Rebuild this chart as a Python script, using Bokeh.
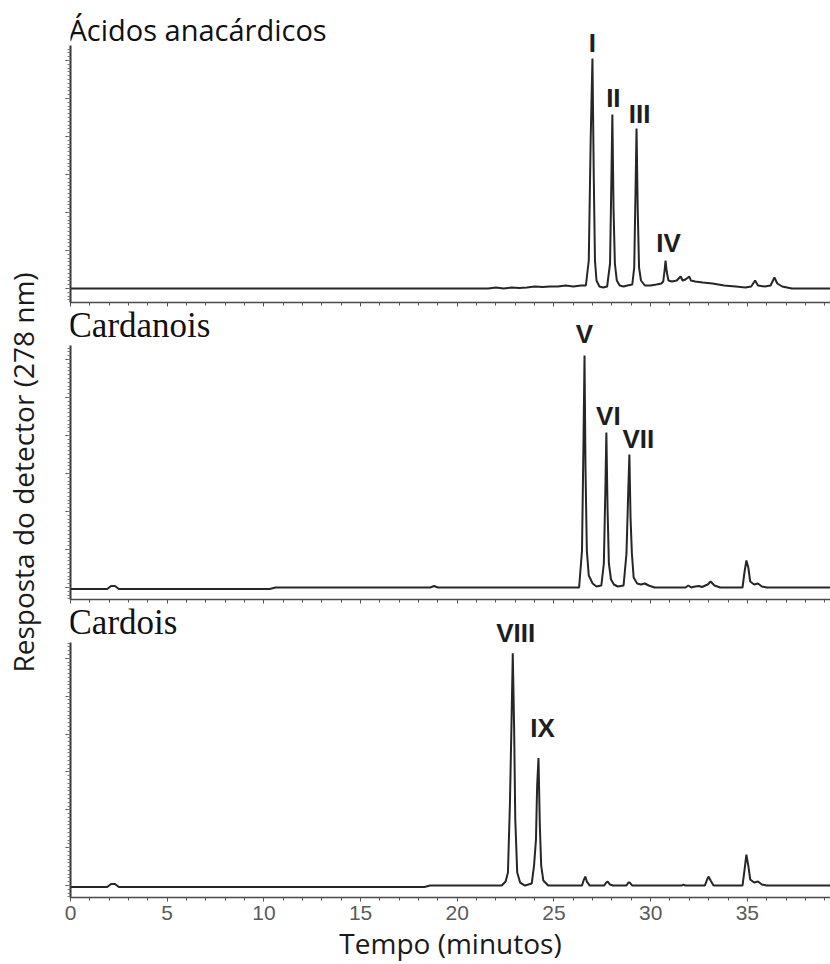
from math import pi
from bokeh.plotting import figure
from bokeh.models import Label, SingleIntervalTicker, Range1d, CustomJSTickFormatter
from bokeh.layouts import row, column
from bokeh.embed import file_html
from bokeh.resources import INLINE

# ---------------- data (retention time in minutes, relative detector response) -------------
x_end = 39.3

acidos_t = [0, 21.6, 22.0, 22.4, 22.8, 23.2, 23.6, 24.0, 24.4, 24.8, 25.2, 25.6, 26.0, 26.4,
            26.65, 26.8, 26.9, 26.99, 27.06, 27.12, 27.2, 27.35, 27.55,
            27.75, 27.9, 27.97, 28.02, 28.08, 28.15, 28.25, 28.4, 28.6, 28.8,
            29.05, 29.15, 29.22, 29.27, 29.33, 29.4, 29.5, 29.7, 30.0, 30.3, 30.55,
            30.65, 30.72, 30.77, 30.83, 30.92, 31.1, 31.35, 31.55, 31.65, 31.8, 32.0, 32.08,
            32.3, 32.7, 33.2, 33.8, 34.4, 34.9, 35.2, 35.4, 35.55, 35.9, 36.2, 36.4, 36.55,
            36.8, 37.3, 39.3]
acidos_r = [0, 0, 1, 0, 1, 0.5, 1, 2, 1.5, 2, 2, 3, 2, 3,
            3, 28, 150, 230, 110, 28, 8, 2, 1,
            2, 25, 110, 174, 80, 25, 8, 3, 2, 3,
            4, 21, 100, 160, 80, 21, 8, 3, 3, 4, 5,
            7, 18, 28, 17, 8, 7, 8, 12, 8, 9, 12, 8,
            7, 6, 5, 3, 2, 1, 2, 8, 3, 2, 3, 11, 5,
            2, 0, 0]

cardanois_t = [0, 1.9, 2.1, 2.3, 2.5, 10.3, 10.6, 18.6, 18.8, 19.0, 26.3,
               26.45, 26.53, 26.58, 26.63, 26.7, 26.8, 27.0, 27.2,
               27.45, 27.58, 27.66, 27.71, 27.77, 27.84, 27.95, 28.1, 28.3,
               28.6, 28.75, 28.84, 28.9, 28.96, 29.03, 29.12, 29.3, 29.5, 29.7, 29.9, 30.2,
               31.8, 31.95, 32.1, 32.3, 32.5, 32.65, 32.95, 33.1, 33.3, 33.6,
               34.75, 34.85, 34.95, 35.05, 35.15, 35.35, 35.55, 35.75, 36.0, 39.3]
cardanois_r = [-1.5, -1.5, 1.5, 1.5, -1.5, -1.5, 0, 0, 1.5, 0, 0,
               37, 150, 232, 120, 37, 12, 4, 1,
               2, 24, 100, 155, 80, 24, 8, 3, 1,
               2, 34, 95, 133, 70, 34, 10, 4, 3, 4, 2, 0,
               0, 2, 0, 1, 1.5, 0.5, 3, 6, 2, 0,
               0, 15, 27, 20, 6, 3, 4, 1, 0, 0]

cardois_t = [0, 1.9, 2.1, 2.3, 2.5, 18.3, 18.6, 22.3,
             22.5, 22.62, 22.72, 22.8, 22.87, 22.94, 23.0, 23.1, 23.25, 23.5,
             23.85, 23.97, 24.07, 24.13, 24.2, 24.27, 24.34, 24.45, 24.7,
             26.45, 26.55, 26.62, 26.7, 26.85, 27.6, 27.7, 27.78, 27.9, 28.05,
             28.75, 28.85, 28.92, 29.05, 31.6, 31.7, 31.8,
             32.8, 32.92, 33.0, 33.1, 33.25,
             34.75, 34.85, 34.95, 35.05, 35.15, 35.35, 35.55, 35.75, 36.0, 39.3]
cardois_r = [-1.5, -1.5, 1.5, 1.5, -1.5, -1.5, 0, 0,
             4, 13, 80, 158, 233, 158, 66, 13, 3, 0,
             2, 20, 46, 100, 128, 60, 20, 5, 0,
             0, 6, 9, 4, 0, 0, 3, 4, 1, 0,
             0, 3, 3, 0, 0, 1, 0,
             0, 6, 9, 5, 0,
             0, 15, 31, 20, 6, 3, 4, 1, 0, 0]

acidos_peaks = ["I", "II", "III", "IV"]
acidos_peak_t = [26.99, 28.02, 29.27, 30.77]
acidos_peak_r = [230, 174, 160, 28]

cardanois_peaks = ["V", "VI", "VII"]
cardanois_peak_t = [26.58, 27.71, 28.9]
cardanois_peak_r = [232, 155, 133]

cardois_peaks = ["VIII", "IX"]
cardois_peak_t = [22.87, 24.2]
cardois_peak_r = [233, 128]

x_label = "Tempo (minutos)"
y_label = "Resposta do detector (278 nm)"

# ---------------- styling / layout ----------------
LINE = "#262626"
PANEL_W = 782
EMPTY = CustomJSTickFormatter(code="return ''")
LABEL_LIFT = 10  # extra upward shift (px) so the glyphs clear the peak tops


def panel(t, r, title, title_font, title_size, title_lift, names, pt, pr, dx, gap,
          height, b_bottom, y_lo, y_hi, axis_top, last=False):
    p = figure(width=PANEL_W, height=height,
               x_range=Range1d(0, x_end), y_range=Range1d(y_lo, y_hi),
               output_backend="svg", toolbar_location=None,
               min_border_left=22, min_border_right=0,
               min_border_top=0, min_border_bottom=b_bottom)
    p.outline_line_color = None
    p.grid.visible = False

    p.line(t, r, line_color=LINE, line_width=2)

    xa = p.xaxis[0]
    xa.ticker = SingleIntervalTicker(interval=5, num_minor_ticks=5)
    xa.axis_line_color = "#4a4a4a"
    xa.axis_line_width = 1.6
    xa.major_tick_in = 0
    xa.major_tick_out = 4
    xa.minor_tick_in = 0
    xa.minor_tick_out = 3
    xa.major_tick_line_color = "#555555"
    xa.minor_tick_line_color = "#555555"
    if last:
        xa.major_label_text_font = "Liberation Sans"
        xa.major_label_text_font_size = "21px"
        xa.major_label_text_color = "#5a5a5a"
        xa.major_label_standoff = 4
        xa.axis_label = x_label
        xa.axis_label_text_font = "Open Sans"
        xa.axis_label_text_font_style = "normal"
        xa.axis_label_text_font_size = "28px"
        xa.axis_label_text_color = "#1a1a1a"
        xa.axis_label_standoff = 1
    else:
        xa.formatter = EMPTY
        xa.major_label_text_font_size = "0px"
        xa.major_label_standoff = 0

    ya = p.yaxis[0]
    ya.ticker = SingleIntervalTicker(interval=38, num_minor_ticks=10)
    ya.bounds = (y_lo, axis_top)
    ya.formatter = EMPTY
    ya.axis_line_color = "#333333"
    ya.axis_line_width = 2
    ya.major_tick_in = 0
    ya.major_tick_out = 5
    ya.minor_tick_in = 0
    ya.minor_tick_out = 3
    ya.major_tick_line_color = "#555555"
    ya.minor_tick_line_color = "#777777"
    ya.major_label_text_font_size = "0px"
    ya.major_label_standoff = 0

    p.add_layout(Label(x=0, y=axis_top, x_offset=-2, y_offset=title_lift, text=title,
                       text_font=title_font, text_font_size=title_size,
                       text_color="#111111", text_baseline="alphabetic",
                       text_align="left"))

    for name, tt, rr, ox, oy in zip(names, pt, pr, dx, gap):
        p.add_layout(Label(x=tt, y=rr, x_offset=ox, y_offset=oy + LABEL_LIFT, text=name,
                           text_font="Liberation Sans", text_font_style="bold",
                           text_font_size="26px", text_color="#1e1e1e",
                           text_align="center", text_baseline="alphabetic"))
    return p


p1 = panel(acidos_t, acidos_r, "Ácidos anacárdicos", "Open Sans", "29px", 16,
           acidos_peaks, acidos_peak_t, acidos_peak_r,
           [0, 1, 3, 3], [6, 7, 5, 8],
           height=307, b_bottom=5, y_lo=-14, y_hi=288, axis_top=243)
p2 = panel(cardanois_t, cardanois_r, "Cardanois", "Liberation Serif", "35px", 20,
           cardanois_peaks, cardanois_peak_t, cardanois_peak_r,
           [0, 2, 9], [12, 7, 6],
           height=297, b_bottom=5, y_lo=-12, y_hi=280, axis_top=242)
p3 = panel(cardois_t, cardois_r, "Cardois", "Liberation Serif", "35px", 20,
           cardois_peaks, cardois_peak_t, cardois_peak_r,
           [3, 4], [10, 20],
           height=360, b_bottom=66, y_lo=-12, y_hi=282, axis_top=244, last=True)

lab = figure(width=48, height=964, x_range=Range1d(0, 48), y_range=Range1d(0, 964),
             x_axis_type=None, y_axis_type=None, output_backend="svg",
             toolbar_location=None, min_border=0)
lab.outline_line_color = None
lab.grid.visible = False
lab.add_layout(Label(x=22, y=964 - 472, angle=pi / 2, text=y_label,
                     text_font="Open Sans", text_font_size="28px",
                     text_color="#1a1a1a", text_align="center",
                     text_baseline="middle"))

layout = row(lab, column(p1, p2, p3, spacing=0), spacing=0)

open("out.html", "w").write(file_html(layout, INLINE))
